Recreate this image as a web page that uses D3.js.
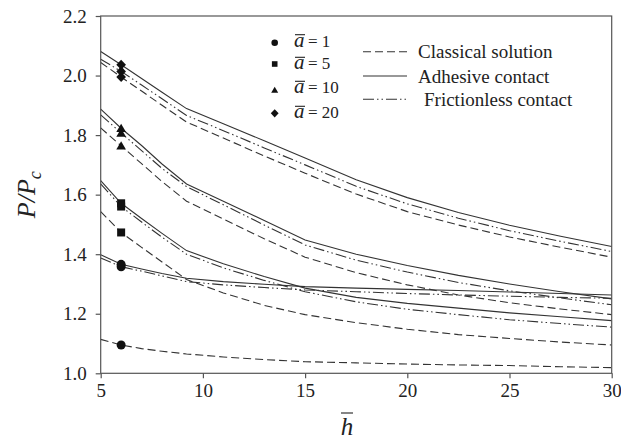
<!DOCTYPE html>
<html>
<head>
<meta charset="utf-8">
<script src="https://cdn.jsdelivr.net/npm/d3@7"></script>
</head>
<body style="margin:0">
<script>
// values, P/Pc against h-bar

var hVals = [5, 6, 7, 8, 9.2, 11, 13, 15, 17.5, 20, 22.5, 25, 27.5, 30];

var a1Adhesive     = [1.398, 1.366, 1.350, 1.335, 1.319, 1.308, 1.299, 1.291, 1.286, 1.282, 1.278, 1.273, 1.268, 1.263];
var a1Frictionless = [1.387, 1.358, 1.343, 1.327, 1.308, 1.297, 1.288, 1.280, 1.274, 1.268, 1.263, 1.259, 1.255, 1.252];
var a1Classical    = [1.114, 1.095, 1.083, 1.074, 1.065, 1.055, 1.046, 1.039, 1.035, 1.031, 1.028, 1.026, 1.022, 1.019];

var a5Adhesive     = [1.647, 1.571, 1.520, 1.470, 1.412, 1.368, 1.325, 1.286, 1.255, 1.235, 1.219, 1.203, 1.190, 1.177];
var a5Frictionless = [1.636, 1.560, 1.508, 1.457, 1.400, 1.354, 1.312, 1.274, 1.240, 1.215, 1.197, 1.180, 1.167, 1.155];
var a5Classical    = [1.543, 1.473, 1.423, 1.374, 1.315, 1.270, 1.228, 1.197, 1.170, 1.148, 1.130, 1.117, 1.105, 1.095];

var a10Adhesive     = [1.887, 1.823, 1.765, 1.703, 1.636, 1.578, 1.513, 1.448, 1.400, 1.362, 1.329, 1.300, 1.274, 1.250];
var a10Frictionless = [1.868, 1.807, 1.748, 1.688, 1.627, 1.566, 1.498, 1.431, 1.380, 1.340, 1.305, 1.277, 1.253, 1.230];
var a10Classical    = [1.824, 1.764, 1.704, 1.644, 1.578, 1.518, 1.452, 1.390, 1.338, 1.297, 1.263, 1.237, 1.216, 1.197];

var a20Adhesive     = [2.081, 2.036, 1.990, 1.944, 1.889, 1.838, 1.781, 1.723, 1.650, 1.590, 1.540, 1.497, 1.460, 1.426];
var a20Frictionless = [2.055, 2.014, 1.968, 1.922, 1.866, 1.815, 1.757, 1.700, 1.628, 1.569, 1.521, 1.479, 1.443, 1.409];
var a20Classical    = [2.044, 1.995, 1.948, 1.900, 1.844, 1.790, 1.730, 1.672, 1.602, 1.543, 1.498, 1.458, 1.423, 1.390];

var aLabels = ["1", "5", "10", "20"];
var markerTypes = ["circle", "square", "triangle", "diamond"];
var lineNames = ["Classical solution", "Adhesive contact", "Frictionless contact"];

var xTicks = [5, 10, 15, 20, 25, 30];
var yTicks = [1.0, 1.2, 1.4, 1.6, 1.8, 2.0, 2.2];

var markerH = 6; // markers sit on h = 6

var width = 621;
var height = 440;

var plotLeft = 100.7;
var plotRight = 611.7;
var plotTop = 16;
var plotBottom = 373.3;

var fontName = "Liberation Serif";
var ink = "#333";
var dashClassical = "8,4";
var dashFrictionless = "11,3,1.5,3,1.5,3";

var svg = d3
  .select("body")
  .append("svg")
  .attr("width", width)
  .attr("height", height);

var xscale = d3.scaleLinear().domain([5, 30]).range([plotLeft, plotRight]);
var yscale = d3.scaleLinear().domain([1.0, 2.2]).range([plotBottom, plotTop]);

// groups: one per a-bar, three curves each
var groups = [
  { a: aLabels[0], marker: markerTypes[0], adhesive: a1Adhesive, frictionless: a1Frictionless, classical: a1Classical },
  { a: aLabels[1], marker: markerTypes[1], adhesive: a5Adhesive, frictionless: a5Frictionless, classical: a5Classical },
  { a: aLabels[2], marker: markerTypes[2], adhesive: a10Adhesive, frictionless: a10Frictionless, classical: a10Classical },
  { a: aLabels[3], marker: markerTypes[3], adhesive: a20Adhesive, frictionless: a20Frictionless, classical: a20Classical }
];

var line = d3
  .line()
  .x(function(d) { return xscale(d[0]); })
  .y(function(d) { return yscale(d[1]); });

function pairs(vals) {
  return hVals.map(function(h, i) { return [h, vals[i]]; });
}

// text helper so every label gets the serif face
function addText(parent, x, y, size, str) {
  return parent.append("text")
    .attr("x", x)
    .attr("y", y)
    .attr("fill", "#222")
    .style("font-family", fontName)
    .attr("font-size", size)
    .text(str);
}

// overbar drawn as a short line (no getBBox)
function overbar(x1, x2, y) {
  svg.append("line")
    .attr("x1", x1).attr("x2", x2)
    .attr("y1", y).attr("y2", y)
    .attr("stroke", "#222").attr("stroke-width", 1.1);
}

var curves = svg.append("g").attr("class", "curves");

groups.forEach(function(g) {
  curves.append("path")
    .attr("d", line(pairs(g.classical)))
    .attr("fill", "none")
    .attr("stroke", ink)
    .attr("stroke-width", 1.1)
    .attr("stroke-dasharray", dashClassical);
  curves.append("path")
    .attr("d", line(pairs(g.frictionless)))
    .attr("fill", "none")
    .attr("stroke", ink)
    .attr("stroke-width", 1.1)
    .attr("stroke-dasharray", dashFrictionless);
  curves.append("path")
    .attr("d", line(pairs(g.adhesive)))
    .attr("fill", "none")
    .attr("stroke", ink)
    .attr("stroke-width", 1.1);
});

// marker shapes
function markerPath(type, s) {
  if (type == "circle") {
    return "M" + s + ",0A" + s + "," + s + " 0 1,1 " + (-s) + ",0A" + s + "," + s + " 0 1,1 " + s + ",0Z";
  }
  if (type == "square") {
    return "M" + (-s) + "," + (-s) + "H" + s + "V" + s + "H" + (-s) + "Z";
  }
  if (type == "triangle") {
    return "M0," + (-s * 1.05) + "L" + (s * 1.1) + "," + (s * 0.85) + "H" + (-s * 1.1) + "Z";
  }
  return "M0," + (-s * 1.2) + "L" + (s * 1.15) + ",0L0," + (s * 1.2) + "L" + (-s * 1.15) + ",0Z";
}

var mi = hVals.indexOf(markerH);
var markerSize = { circle: 4.5, square: 4, triangle: 4.4, diamond: 4.2 };

var marks = svg.append("g").attr("class", "marks");
groups.forEach(function(g) {
  [g.classical, g.frictionless, g.adhesive].forEach(function(vals) {
    marks.append("path")
      .attr("d", markerPath(g.marker, markerSize[g.marker]))
      .attr("transform", "translate(" + xscale(markerH) + "," + yscale(vals[mi]) + ")")
      .attr("fill", "#111");
  });
});

// axes (box with outside ticks on left and bottom)
var xAxis = d3.axisBottom(xscale).tickValues(xTicks).tickSize(5).tickPadding(5)
  .tickFormat(d3.format("d"));
var yAxis = d3.axisLeft(yscale).tickValues(yTicks).tickSize(5).tickPadding(9)
  .tickFormat(d3.format(".1f"));

var gx = svg.append("g")
  .attr("transform", "translate(0," + plotBottom + ")")
  .call(xAxis);
var gy = svg.append("g")
  .attr("transform", "translate(" + plotLeft + ",0)")
  .call(yAxis);

[gx, gy].forEach(function(g) {
  g.attr("font-family", fontName).attr("font-size", 19);
  g.select(".domain").remove();
  g.selectAll("line").attr("stroke", "#555").attr("stroke-width", 1.2);
  g.selectAll("text")
    .style("font-family", fontName)
    .attr("fill", "#222");
});
gx.selectAll("text").attr("dy", "0.71em");

svg.append("rect")
  .attr("x", plotLeft)
  .attr("y", plotTop)
  .attr("width", plotRight - plotLeft)
  .attr("height", plotBottom - plotTop)
  .attr("fill", "none")
  .attr("stroke", "#555")
  .attr("stroke-width", 1.2);

// axis labels
addText(svg, 347, 435, 25, "h")
  .attr("text-anchor", "middle")
  .style("font-style", "italic");
overbar(341, 353, 413);

var ylab = addText(svg, 0, 0, 26, null)
  .attr("transform", "translate(35," + ((plotTop + plotBottom) / 2) + ")rotate(-90)")
  .attr("text-anchor", "middle")
  .style("font-style", "italic");
ylab.append("tspan").text("P/P");
ylab.append("tspan").attr("font-size", 18).attr("dy", 6).text("c");

// legend: markers
var legendMarkX = 274.7;
var legendRowY = [46.7, 69.3, 93.3, 118.3];
var legendMarkY = [42.7, 64, 90, 113.3];
var legendMarkSize = { circle: 3.3, square: 2.8, triangle: 3.2, diamond: 3.4 };

groups.forEach(function(g, i) {
  svg.append("path")
    .attr("d", markerPath(g.marker, legendMarkSize[g.marker]))
    .attr("transform", "translate(" + legendMarkX + "," + legendMarkY[i] + ")")
    .attr("fill", "#111");

  addText(svg, 294, legendRowY[i], 21, "a").style("font-style", "italic");
  overbar(295, 305, legendRowY[i] - 12);

  addText(svg, 308, legendRowY[i], 17, "= " + g.a);
});

// legend: line styles
var legendLineY = [51.7, 76, 99.3];
var legendTextX = [418, 418, 424];
var legendDash = [dashClassical, null, dashFrictionless];

lineNames.forEach(function(name, i) {
  svg.append("line")
    .attr("x1", 363).attr("x2", 407)
    .attr("y1", legendLineY[i]).attr("y2", legendLineY[i])
    .attr("stroke", ink)
    .attr("stroke-width", 1.1)
    .attr("stroke-dasharray", legendDash[i]);
  addText(svg, legendTextX[i], legendLineY[i] + 6.5, 19, name);
});
</script>
</body>
</html>
